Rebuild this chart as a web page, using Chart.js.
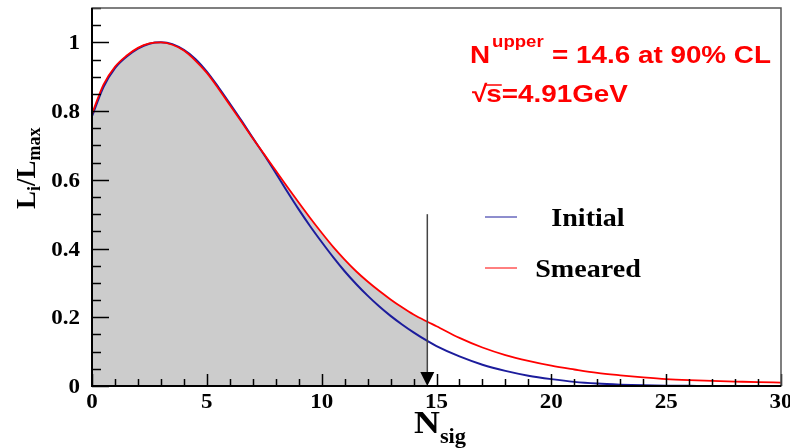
<!DOCTYPE html>
<html><head><meta charset="utf-8">
<script src="https://cdn.jsdelivr.net/npm/chart.js@4.4.1/dist/chart.umd.min.js"></script>
<style>html,body{margin:0;padding:0;background:#fff;} canvas{display:block;}</style>
</head><body>
<canvas id="c" width="790" height="448"></canvas>
<script>
const nsig = [0,0.5,1,1.5,2,2.5,3,3.5,4,4.5,5,5.5,6,6.5,7,7.5,8,8.5,9,9.5,10,10.5,11,11.5,12,12.5,13,13.5,14,14.6,15,16,17,18,19,20,21,22,23,24,25,26,27,28,29,30];
const initial = [0.785,0.870,0.925,0.958,0.982,0.996,1.000,0.995,0.978,0.952,0.915,0.870,0.822,0.773,0.722,0.672,0.620,0.566,0.514,0.465,0.419,0.375,0.334,0.297,0.263,0.232,0.204,0.179,0.156,0.131,0.116,0.086,0.062,0.044,0.030,0.020,0.012,0.007,0.004,0.002,0.001,0.0005,0,0,0,0];
const smeared = [0.792,0.877,0.929,0.961,0.984,0.997,1.000,0.993,0.976,0.947,0.911,0.866,0.818,0.770,0.721,0.674,0.627,0.580,0.534,0.489,0.446,0.405,0.368,0.334,0.304,0.277,0.252,0.229,0.208,0.187,0.174,0.140,0.112,0.090,0.073,0.059,0.048,0.038,0.031,0.025,0.020,0.017,0.015,0.013,0.011,0.010];
const xTicks = [0,5,10,15,20,25,30];
const yTicks = [0,0.2,0.4,0.6,0.8,1];
const upperLimit = 14.6;
const arrowTop = 0.5;
const seriesNames = ['Initial','Smeared'];
const annot1 = ['N','upper','= 14.6 at 90% CL'];
const annot2 = ['\u221A','s','=4.91GeV'];

const BLUE = '#1c1c9c', RED = '#ff0000';
const SERIF = '"Liberation Serif", "Times New Roman", serif';
const SANS = '"Liberation Sans", Arial, sans-serif';
const SX = 1.15; // horizontal stretch of the original figure's lettering

const pts = arr => nsig.map((n,i)=>({x:n,y:arr[i]}));

function txt(ctx, s, x, y, font, align, sx){
  ctx.save();
  ctx.font = font; ctx.textAlign = align || 'left'; ctx.textBaseline = 'alphabetic';
  ctx.translate(x, y); ctx.scale(sx || 1, 1);
  ctx.fillText(s, 0, 0);
  const w = ctx.measureText(s).width * (sx || 1);
  ctx.restore();
  return w;
}

const decor = {
  id:'decor',
  afterDatasetsDraw(chart){
    const {ctx, chartArea:a, scales:{x,y}} = chart;
    ctx.save();
    // arrow
    const ax = x.getPixelForValue(upperLimit);
    const y0 = y.getPixelForValue(0);
    ctx.strokeStyle='#444'; ctx.lineWidth=1.5;
    ctx.beginPath(); ctx.moveTo(ax, y.getPixelForValue(arrowTop)); ctx.lineTo(ax, y0-6); ctx.stroke();
    ctx.fillStyle='#000';
    ctx.beginPath(); ctx.moveTo(ax-7, y0-14); ctx.lineTo(ax+7, y0-14); ctx.lineTo(ax, y0); ctx.closePath(); ctx.fill();
    // ticks
    ctx.strokeStyle='#000'; ctx.lineWidth=1.5;
    for(let k=0;k<=22;k++){
      const v=k*0.05, py=Math.round(y.getPixelForValue(v))+0.5;
      const len = (k%4===0)?17:9;
      ctx.beginPath(); ctx.moveTo(a.left, py); ctx.lineTo(a.left+len, py); ctx.stroke();
    }
    for(let k=0;k<=30;k++){
      const px=Math.round(x.getPixelForValue(k))+0.5;
      const len = (k%5===0)?12:7;
      ctx.beginPath(); ctx.moveTo(px, a.bottom); ctx.lineTo(px, a.bottom-len); ctx.stroke();
    }
    // frame
    ctx.strokeStyle='#555'; ctx.lineWidth=1.5;
    ctx.strokeRect(a.left, a.top, a.right-a.left, a.bottom-a.top);
    ctx.strokeStyle='#000'; ctx.lineWidth=2;
    ctx.beginPath(); ctx.moveTo(a.left, a.top); ctx.lineTo(a.left, a.bottom); ctx.lineTo(a.right, a.bottom); ctx.stroke();

    // tick labels
    ctx.fillStyle='#000';
    const tf = 'bold 20px '+SERIF;
    for(const v of yTicks) txt(ctx, String(v), a.left-12, y.getPixelForValue(v)+7, tf, 'right', SX);
    for(const v of xTicks) txt(ctx, String(v), x.getPixelForValue(v), 408, tf, 'center', SX);

    // legend
    ctx.lineWidth=1;
    ctx.strokeStyle=BLUE; ctx.beginPath(); ctx.moveTo(485,217); ctx.lineTo(517,217); ctx.stroke();
    ctx.strokeStyle=RED; ctx.beginPath(); ctx.moveTo(485,268); ctx.lineTo(517,268); ctx.stroke();
    const lf = 'bold 26px '+SERIF;
    txt(ctx, seriesNames[0], 588, 226, lf, 'center', 1.08);
    txt(ctx, seriesNames[1], 588, 277, lf, 'center', 1.08);

    // red annotation
    ctx.fillStyle=RED;
    const af = 'bold 24px '+SANS;
    let w = txt(ctx, annot1[0], 470, 63, af, 'left', 1.16);
    txt(ctx, annot1[1], 470+w+2, 47, 'bold 16px '+SANS, 'left', 1.16);
    txt(ctx, annot1[2], 552, 63, af, 'left', 1.16);
    const w2 = txt(ctx, annot2[0], 472, 102, af, 'left', 1.16);
    const sx = 472+w2-1;
    const ws = txt(ctx, annot2[1], sx, 102, af, 'left', 1.16);
    ctx.strokeStyle=RED; ctx.lineWidth=1.5;
    ctx.beginPath(); ctx.moveTo(sx-1, 85); ctx.lineTo(sx+ws, 85); ctx.stroke();
    txt(ctx, annot2[2], sx+ws, 102, af, 'left', 1.16);

    // x title
    ctx.fillStyle='#000';
    const wn = txt(ctx, 'N', 414, 433, 'bold 32px '+SERIF, 'left', 1.12);
    txt(ctx, 'sig', 414+wn, 443, 'bold 20px '+SERIF, 'left', 1.12);

    // y title (rotated)
    ctx.save();
    ctx.translate(35, 209);
    ctx.rotate(-Math.PI/2);
    let cx=0;
    const parts=[['L',27,0],['i',18,5],['/L',27,0],['max',18,5]];
    for(const [t,s,dy] of parts){
      ctx.font='bold '+s+'px '+SERIF;
      ctx.fillText(t, cx, dy);
      cx += ctx.measureText(t).width;
    }
    ctx.restore();
    ctx.restore();
  }
};

new Chart(document.getElementById('c'), {
  type:'line',
  data:{datasets:[
    {label:'area', data: pts(smeared).filter(p=>p.x<=upperLimit+1e-9), fill:'origin', backgroundColor:'#cccccc', borderColor:'rgba(0,0,0,0)', borderWidth:0, pointRadius:0, cubicInterpolationMode:'monotone', order:3},
    {label:seriesNames[0], data: pts(initial), borderColor:BLUE, borderWidth:2, pointRadius:0, fill:false, cubicInterpolationMode:'monotone', order:2},
    {label:seriesNames[1], data: pts(smeared), borderColor:RED, borderWidth:1.8, pointRadius:0, fill:false, cubicInterpolationMode:'monotone', order:1}
  ]},
  options:{
    responsive:false, animation:false,
    layout:{padding:{top:8,right:9,left:0,bottom:0}},
    plugins:{legend:{display:false}, tooltip:{enabled:false}},
    scales:{
      x:{type:'linear', min:0, max:30,
        afterBuildTicks:s=>{s.ticks = xTicks.map(v=>({value:v}));},
        afterFit:s=>{s.height=62; s.paddingLeft=0; s.paddingRight=0;},
        ticks:{display:false},
        grid:{display:false, drawTicks:false}, border:{display:false}},
      y:{type:'linear', min:0, max:1.1,
        afterBuildTicks:s=>{s.ticks = yTicks.map(v=>({value:v}));},
        afterFit:s=>{s.width=92; s.paddingTop=0; s.paddingBottom=0;},
        ticks:{display:false},
        grid:{display:false, drawTicks:false}, border:{display:false}}
    }
  },
  plugins:[decor]
});
</script>
</body></html>
